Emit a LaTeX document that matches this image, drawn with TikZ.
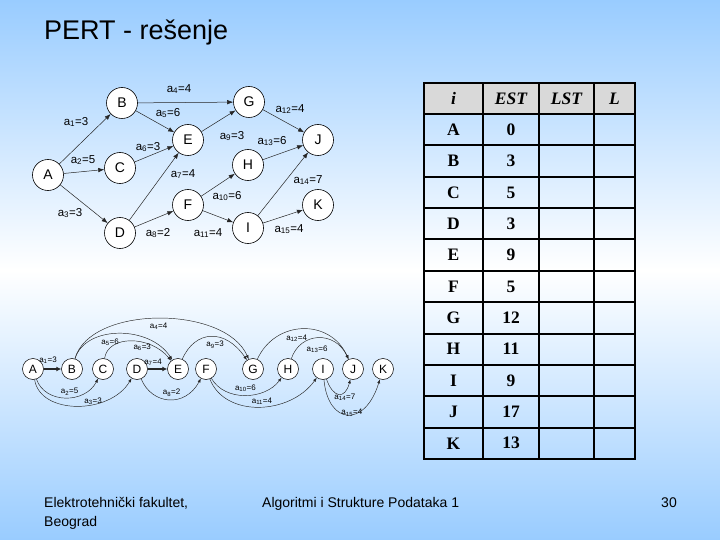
\documentclass[tikz,border=0pt]{standalone}
\usepackage{fontspec}
\setmainfont{Liberation Sans}
\newfontfamily\tabfont{Liberation Serif}
\usetikzlibrary{arrows.meta,positioning}

\definecolor{slideblue}{RGB}{153,204,255}
\definecolor{headgray}{RGB}{217,217,217}

\tikzset{
  ev/.style={circle,draw=black,fill=white,line width=.6pt,minimum size=31pt,
    inner sep=0pt,font=\fontsize{14}{14}\selectfont},
  evs/.style={circle,draw=black,fill=white,line width=.5pt,minimum size=21pt,
    inner sep=0pt,font=\fontsize{12}{12}\selectfont},
  act/.style={-{Latex[length=6pt,width=4.5pt]},line width=.5pt,draw=black!85},
  acts/.style={-{Latex[length=4pt,width=3pt]},line width=.45pt,draw=black!85},
  actb/.style={-{Latex[length=5pt,width=5pt]},line width=1.2pt,draw=black!85},
  lbl/.style={inner sep=0pt,font=\fontsize{11.5}{12}\selectfont},
  lbls/.style={inner sep=0pt,font=\fontsize{8}{9}\selectfont},
  cell/.style={inner sep=0pt,font=\tabfont\bfseries\fontsize{17.5}{17}\selectfont},
  head/.style={inner sep=0pt,font=\tabfont\bfseries\itshape\fontsize{17.5}{17}\selectfont},
  foot/.style={anchor=base west,inner sep=0pt,font=\fontsize{14}{14}\selectfont},
}

\begin{document}
\begin{tikzpicture}[x=1pt,y=-1pt]
  \useasboundingbox (0,0) rectangle (720,540);
  % slide background
  \shade[top color=slideblue,bottom color=white] (0,0) rectangle (720,270);
  \shade[top color=white,bottom color=slideblue] (0,270) rectangle (720,540);

  \node[anchor=base west,inner sep=0pt,font=\fontsize{27}{30}\selectfont]
    (title) at (44,39.5) {PERT - rešenje};

  % network, top
  \foreach \n/\x/\y in {A/48/175,B/122/103,C/120/168,D/120/233,E/188/140,F/188/205,
                        G/249/102,H/248/165,I/248/228,J/318/140,K/318/205}
    \node[ev] (\n) at (\x,\y) {\n};

  \draw[act] (A) -- node[lbl,xshift=-9,yshift=17] {a\textsubscript{1}=3} (B);
  \draw[act] (A) -- node[lbl,xshift=-1,yshift=11.5] {a\textsubscript{2}=5} (C);
  \draw[act] (A) -- node[lbl,xshift=-14,yshift=-9] {a\textsubscript{3}=3} (D);
  \draw[act] (B) -- node[lbl,xshift=-6.5,yshift=13.5] {a\textsubscript{4}=4} (G);
  \draw[act] (B) -- node[lbl,xshift=13,yshift=8.5] {a\textsubscript{5}=6} (E);
  \draw[act] (C) -- node[lbl,xshift=-6,yshift=7] {a\textsubscript{6}=3} (E);
  \draw[act] (D) -- node[lbl,xshift=29,yshift=12.5] {a\textsubscript{7}=4} (E);
  \draw[act] (D) -- node[lbl,xshift=4,yshift=-14] {a\textsubscript{8}=2} (F);
  \draw[act] (E) -- node[lbl,xshift=13.5,yshift=-15] {a\textsubscript{9}=3} (G);
  \draw[act] (F) -- node[lbl,xshift=9,yshift=-11] {a\textsubscript{10}=6} (H);
  \draw[act] (F) -- node[lbl,xshift=-10,yshift=-16.5] {a\textsubscript{11}=4} (I);
  \draw[act] (G) -- node[lbl,xshift=6.5,yshift=12] {a\textsubscript{12}=4} (J);
  \draw[act] (H) -- node[lbl,xshift=-11,yshift=11.5] {a\textsubscript{13}=6} (J);
  \draw[act] (I) -- node[lbl,xshift=25,yshift=4] {a\textsubscript{14}=7} (J);
  \draw[act] (I) -- node[lbl,xshift=6,yshift=-12.5] {a\textsubscript{15}=4} (K);

  % network, in a row
  \foreach \n/\x in {A/33,B/72,C/103,D/137,E/178,F/206,G/253,H/288,I/323,J/353,K/383}
    \node[evs] (\n2) at (\x,369) {\n};

  \draw[actb] (A2) -- node[lbls,xshift=-4.5,yshift=9] {a\textsubscript{1}=3} (B2);
  \draw[acts] (A2) .. controls (45,404) and (85,404) .. node[lbls,xshift=4,yshift=6] {a\textsubscript{2}=5} (C2);
  \draw[acts] (A2) .. controls (40,415) and (110,415) .. node[lbls,xshift=16,yshift=5] {a\textsubscript{3}=3} (D2);
  \draw[acts] (B2) .. controls (90,305) and (225,305) .. node[lbls,yshift=-7.5] {a\textsubscript{4}=4} (G2);
  \draw[acts] (B2) .. controls (85,325) and (150,325) .. node[lbls,xshift=-9,yshift=-8.5] {a\textsubscript{5}=6} (E2);
  \draw[acts] (C2) .. controls (108,335) and (150,335) .. node[lbls,xshift=11,yshift=-6] {a\textsubscript{6}=3} (E2);
  \draw[actb] (D2) -- node[lbls,xshift=-4.5,yshift=7] {a\textsubscript{7}=4} (E2);
  \draw[acts] (D2) .. controls (152,405) and (185,408) .. node[lbls,xshift=2.5,yshift=7] {a\textsubscript{8}=2} (F2);
  \draw[acts] (E2) .. controls (195,330) and (225,328) .. node[lbls,xshift=4,yshift=-8] {a\textsubscript{9}=3} (G2);
  \draw[acts] (F2) .. controls (225,402) and (265,400) .. node[lbls,yshift=7] {a\textsubscript{10}=6} (H2);
  \draw[acts] (F2) .. controls (225,418) and (290,415) .. node[lbls,xshift=3,yshift=6] {a\textsubscript{11}=4} (I2);
  \draw[acts] (G2) .. controls (275,320) and (330,318) .. node[lbls,xshift=-6,yshift=-9] {a\textsubscript{12}=4} (J2);
  \draw[acts] (H2) .. controls (300,332) and (335,330) .. node[lbls,xshift=-1,yshift=-11] {a\textsubscript{13}=6} (J2);
  \draw[acts] (I2) .. controls (333,398) and (345,400) .. node[lbls,xshift=6,yshift=-3] {a\textsubscript{14}=7} (J2);
  \draw[acts] (I2) .. controls (328,425) and (365,428) .. node[lbls,xshift=4,yshift=2] {a\textsubscript{15}=4} (K2);

  % table
  \fill[headgray] (424,83) rectangle (635,114);
  \node[head] (hi) at (453.5,98.5) {i};
  \node[head] (hest) at (511,98.5) {EST};
  \node[head] (hlst) at (566.5,98.5) {LST};
  \node[head] (hl) at (614.5,98.5) {L};
  \foreach \r/\est [count=\k] in {A/0,B/3,C/5,D/3,E/9,F/5,G/12,H/11,I/9,J/17,K/13} {
    \node[cell] (r\r) at (453.5,{114+(\k-0.5)*31.36}) {\r};
    \node[cell] (e\r) at (511,{114+(\k-0.5)*31.36}) {\est};
  }
  \foreach \k in {0,...,11}
    \draw[line width=2pt] (424,{114+\k*31.36}) -- (635,{114+\k*31.36});
  \foreach \x in {483,539,594}
    \draw[line width=2pt] (\x,83) -- (\x,459);
  \draw[line width=2.5pt] (424,83) rectangle (635,459);

  % footer
  \node[foot] (fac) at (44,507) {Elektrotehnički fakultet,};
  \node[foot] (city) at (44,526) {Beograd};
  \node[foot] (course) at (262,507) {Algoritmi i Strukture Podataka 1};
  \node[foot,anchor=base east] (page) at (677,507) {30};
\end{tikzpicture}
\end{document}
